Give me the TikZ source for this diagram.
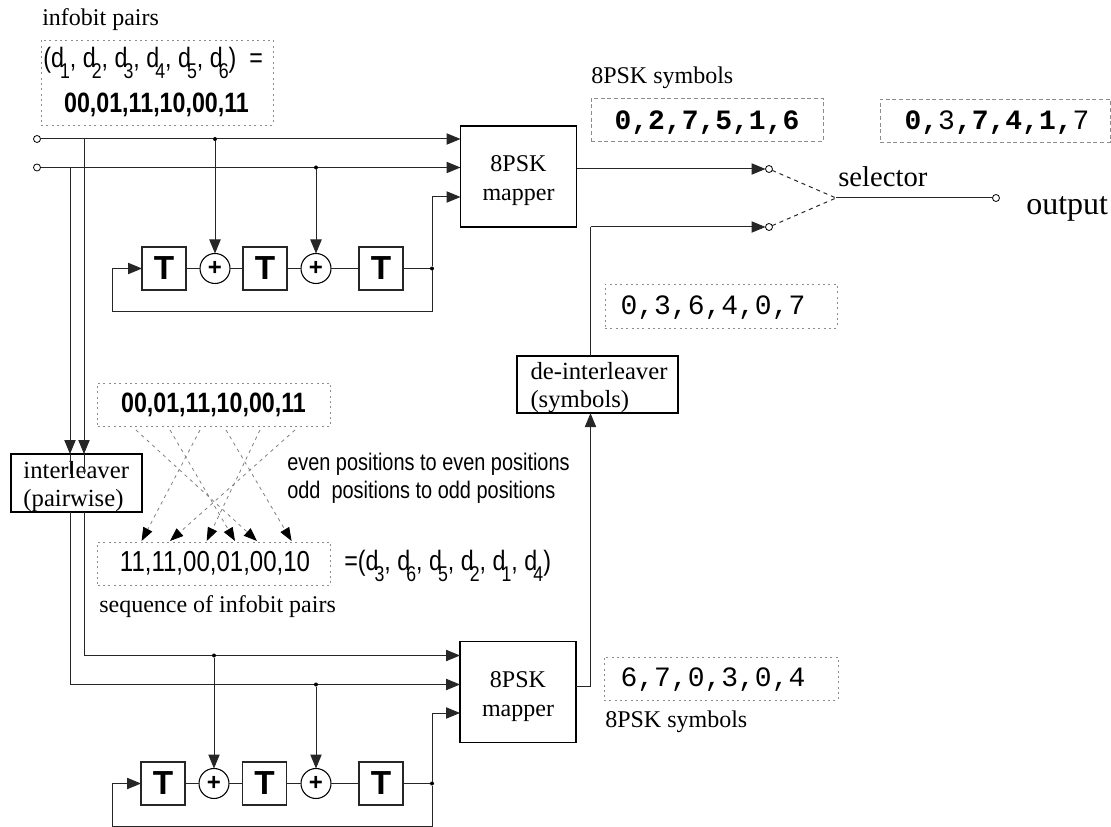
\documentclass[tikz,border=0pt]{standalone}
\usepackage{fontspec}
\setmainfont{Liberation Serif}
\setsansfont{Liberation Sans}
\setmonofont{Liberation Mono}
\newfontfamily\cond[FakeStretch=0.83]{Liberation Sans}
\usetikzlibrary{arrows.meta}
\newcommand{\dd}[1]{d\kern-.14em\raisebox{-.38em}{\fontsize{16}{16}\selectfont #1}}
\tikzset{
  x=0.75pt,y=-0.75pt,
  wire/.style={line width=0.75pt,draw=black!85},
  arr/.style={wire,-{Triangle[length=10.5pt,width=8.5pt]}},
  sized/.style 2 args={minimum width=#1*0.75pt,minimum height=#2*0.75pt,inner sep=0pt,outer sep=0pt},
  blockbox/.style={draw=black,line width=1.1pt,align=left,font=\fontsize{18.5}{21}\selectfont},
  mapper/.style={blockbox,sized={116}{101},align=center,font=\fontsize{18}{21}\selectfont},
  delay/.style={draw=black!85,line width=0.8pt,sized={44}{43},font=\sffamily\bfseries\fontsize{25}{25}\selectfont},
  adder/.style={draw=black,line width=0.8pt,circle,sized={30}{30},font=\sffamily\bfseries\fontsize{18}{18}\selectfont},
  term/.style={draw=black,line width=0.6pt,circle,fill=white,sized={7}{7}},
  jdot/.style={fill=black,circle,sized={4}{4}},
  dbox/.style={draw=black!45,line width=0.7pt,densely dashed,sized={233}{43}},
  dotbox/.style={draw=black!45,line width=0.7pt,dash pattern=on 1.5pt off 2.5pt},
  label/.style={inner sep=0pt,font=\fontsize{18}{20}\selectfont},
  monotxt/.style={inner sep=0pt,font=\ttfamily\fontsize{21}{21}\selectfont},
  pairtxt/.style={inner sep=0pt,font=\cond\fontsize{21}{21}\selectfont},
  cross/.style={draw=black!50,line width=0.6pt,dash pattern=on 2.5pt off 3pt,
    -{Triangle[length=10pt,width=7.5pt,color=black]}},
}
\begin{document}
\begin{tikzpicture}
\useasboundingbox (0,0) rectangle (1111,827);

% ---- top-left labels
\node[label,anchor=west] (lblinfo) at (42,20) {infobit pairs};
\node[dotbox,sized={232}{85}] (boxd) at (157,82.5) {};
\node[pairtxt,anchor=west] (seqd) at (43,63) {(\dd1, \dd2, \dd3, \dd4, \dd5, \dd6)\ \ =};
\node[pairtxt,font=\cond\bfseries\fontsize{21}{21}\selectfont] (bits) at (156.5,105) {00,01,11,10,00,11};

% ---- upper encoder
\node[term] (inA) at (37,139) {};
\node[term] (inB) at (37,167.5) {};
\node[mapper] (mapA) at (518.5,176.5) {\rule{0pt}{18pt}8PSK\\[1pt]mapper};
\coordinate (mA1) at (mapA.west |- 0,139);
\coordinate (mA2) at (mapA.west |- 0,167.5);
\coordinate (mA3) at (mapA.west |- 0,197);
\node[delay] (tA1) at (164,268.5) {T};
\node[adder] (addA1) at (215,268.5) {+};
\node[delay] (tA2) at (265,268.5) {T};
\node[adder] (addA2) at (316,268.5) {+};
\node[delay] (tA3) at (381,268.5) {T};
\node[jdot] (jA1) at (215,139) {};
\node[jdot] (jA2) at (316,167.5) {};
\node[jdot] (jA3) at (432,268.5) {};
\coordinate (fbA1) at (432,312);
\coordinate (fbA2) at (112.5,312);
\coordinate (fbA3) at (112.5,268.5);
\coordinate (upA) at (432,197);
\draw[wire] (inA) -- (jA1);
\draw[arr] (jA1) -- (mA1);
\draw[wire] (inB) -- (jA2);
\draw[arr] (jA2) -- (mA2);
\draw[arr] (jA1) -- (addA1);
\draw[arr] (jA2) -- (addA2);
\draw[wire] (tA1) -- (addA1);
\draw[wire] (addA1) -- (tA2);
\draw[wire] (tA2) -- (addA2);
\draw[wire] (addA2) -- (tA3);
\draw[wire] (tA3) -- (jA3);
\draw[arr] (jA3) -- (upA) -- (mA3);
\draw[arr] (jA3) -- (fbA1) -- (fbA2) -- (fbA3) -- (tA1);

% ---- interleaver
\node[blockbox,sized={131}{58},text width=106*0.75pt,anchor=center] (inter) at (76.5,483)
  {\rule{0pt}{18pt}interleaver\\(pairwise)};
\coordinate (dnA) at (84,139);
\coordinate (dnB) at (70,167.5);
\draw[arr] (dnA) -- (84,454);
\draw[arr] (dnB) -- (70,454);
\draw[wire,line width=0.5pt] (84,454) -- (84,474);
\draw[wire,line width=0.5pt] (70,454) -- (70,474);

% ---- crossing pairs
\node[dotbox,sized={233}{43}] (boxtop) at (214,404.5) {};
\node[pairtxt,font=\cond\bfseries\fontsize{21}{21}\selectfont] (bitstop) at (213.5,405) {00,01,11,10,00,11};
\node[dotbox,sized={233}{43}] (boxlow) at (214,563.5) {};
\node[pairtxt,font=\cond\fontsize{21.7}{21}\selectfont] (bitslow) at (215,563.5) {11,11,00,01,00,10};
\node[pairtxt,anchor=west] (eqd) at (344,566) {=(\dd3, \dd6, \dd5, \dd2, \dd1, \dd4)};
\node[label,anchor=west] (lblseq) at (99,607) {sequence of infobit pairs};
\node[inner sep=0pt,anchor=west,font=\cond\fontsize{18}{18}\selectfont] (ruleE) at (287,464) {even positions to even positions};
\node[inner sep=0pt,anchor=west,font=\cond\fontsize{18}{18}\selectfont] (ruleO) at (287,492) {odd\ \ positions to odd positions};
\draw[cross] (136,430) -- (257,541);
\draw[cross] (170,430) -- (235,541);
\draw[cross] (200,430) -- (141.6,541);
\draw[cross] (226,430) -- (291.6,541);
\draw[cross] (260,430) -- (206.7,541);
\draw[cross] (295,430) -- (170,541);

% ---- lower encoder
\node[mapper] (mapB) at (518,692) {\rule{0pt}{19pt}8PSK\\[1pt]mapper};
\coordinate (mB1) at (mapB.west |- 0,655.5);
\coordinate (mB2) at (mapB.west |- 0,684.5);
\coordinate (mB3) at (mapB.west |- 0,713);
\node[delay] (tB1) at (163,783.5) {T};
\node[adder] (addB1) at (214,783.5) {+};
\node[delay] (tB2) at (264.5,783.5) {T};
\node[adder] (addB2) at (316,783.5) {+};
\node[delay] (tB3) at (381,783.5) {T};
\node[jdot] (jB1) at (214,655.5) {};
\node[jdot] (jB2) at (316,684.5) {};
\node[jdot] (jB3) at (432,783.5) {};
\coordinate (cB1) at (84,655.5);
\coordinate (cB2) at (70,684.5);
\coordinate (upB) at (432,713);
\coordinate (fbB1) at (432,826);
\coordinate (fbB2) at (112,826);
\coordinate (fbB3) at (112,783.5);
\draw[wire] (84,512) -- (cB1) -- (jB1);
\draw[wire] (70,512) -- (cB2) -- (jB2);
\draw[arr] (jB1) -- (mB1);
\draw[arr] (jB2) -- (mB2);
\draw[arr] (jB1) -- (addB1);
\draw[arr] (jB2) -- (addB2);
\draw[wire] (tB1) -- (addB1);
\draw[wire] (addB1) -- (tB2);
\draw[wire] (tB2) -- (addB2);
\draw[wire] (addB2) -- (tB3);
\draw[wire] (tB3) -- (jB3);
\draw[arr] (jB3) -- (upB) -- (mB3);
\draw[arr] (jB3) -- (fbB1) -- (fbB2) -- (fbB3) -- (tB1);

% ---- de-interleaver and selector
\node[blockbox,sized={161}{57},text width=134*0.75pt] (deint) at (597.5,384.5) {\rule{0pt}{18pt}\mbox{de-interleaver}\\(symbols)};
\coordinate (outB) at (590.5,686);
\draw[arr] (mapB.east |- outB) -- (outB) -- (deint.south -| outB);
\node[term] (selA) at (769,169) {};
\node[term] (selB) at (769,227) {};
\coordinate (corner) at (590.5,227);
\draw[arr] (mapA.east |- selA) -- (selA);
\draw[wire] (deint.north -| corner) -- (corner);
\draw[arr] (corner) -- (selB);
\coordinate (selC) at (836,198);
\draw[wire,dashed] (selA) -- (selC);
\draw[wire,dashed] (selB) -- (selC);
\node[term] (outT) at (996,198) {};
\draw[wire] (selC) -- (outT);
\node[inner sep=0pt,anchor=west,font=\fontsize{21.5}{22}\selectfont] (lblsel) at (838,177) {selector};
\node[inner sep=0pt,anchor=west,font=\fontsize{24}{24}\selectfont] (lblout) at (1026,209) {output};

% ---- symbol boxes
\node[label,anchor=west] (lblsymA) at (591,78) {8PSK symbols};
\node[dbox,sized={232}{43}] (symA) at (707,119.5) {};
\node[monotxt,font=\ttfamily\bfseries\fontsize{21}{21}\selectfont] (symAt) at (707,123) {0,2,7,5,1,6};
\node[dbox,sized={230}{43}] (symB) at (995,120.5) {};
\node[monotxt] (symBt) at (997,123) {\textbf{0,}3\textbf{,7,4,1,}7};
\node[dotbox,sized={232}{44}] (symC) at (721,306) {};
\node[monotxt] (symCt) at (713,308) {0,3,6,4,0,7};
\node[dotbox,sized={234}{43}] (symD) at (721,678.5) {};
\node[monotxt] (symDt) at (713,680) {6,7,0,3,0,4};
\node[label,anchor=west] (lblsymB) at (605,722) {8PSK symbols};
\end{tikzpicture}
\end{document}
